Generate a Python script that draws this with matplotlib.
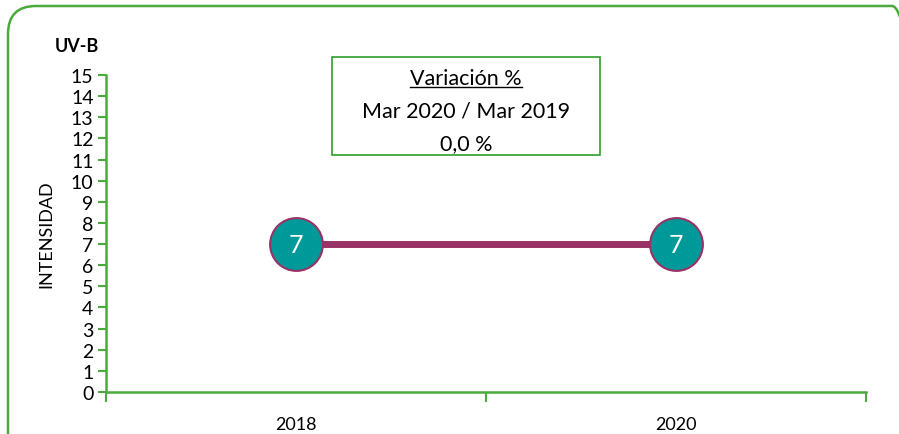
import matplotlib.pyplot as plt
from matplotlib.patches import FancyBboxPatch

years = ["2018", "2020"]
values = [7, 7]
y_ticks = list(range(0, 16))

GREEN = "#4aaa3c"
LINE = "#993366"
FILL = "#009999"

plt.rcParams["font.family"] = ["Lato", "DejaVu Sans"]

fig = plt.figure(figsize=(8.99, 4.35), dpi=100)
ax = fig.add_axes([106 / 899, 1 - 393 / 435, (866 - 106) / 899, (393 - 76) / 435])

x = list(range(len(years)))
ax.plot(x, values, color=LINE, lw=5, solid_capstyle="butt", zorder=2)
ax.plot(x, values, ls="none", marker="o", ms=38, mfc=FILL, mec=LINE, mew=1.5, zorder=3)
for xi, v in zip(x, values):
    ax.text(xi, v, str(v), color="white", ha="center", va="center", fontsize=18, zorder=4)

ax.set_xlim(-0.5, len(years) - 0.5)
ax.set_ylim(0, 15)
ax.set_yticks(y_ticks)
ax.tick_params(axis="y", labelsize=14, length=6, color=GREEN, width=1.5, pad=3)
ax.set_xticks(x)
ax.set_xticklabels(years, fontsize=13)
ax.set_xticks([-0.5, 0.5, 1.5], minor=True)
ax.tick_params(axis="x", which="major", length=0, pad=17)
ax.tick_params(axis="x", which="minor", length=7, color=GREEN, width=1.5)

for s in ["top", "right"]:
    ax.spines[s].set_visible(False)
for s in ["left", "bottom"]:
    ax.spines[s].set_color(GREEN)
    ax.spines[s].set_linewidth(1.8)

ax.set_ylabel("INTENSIDAD", fontsize=13, labelpad=12)
fig.text(55 / 899, 1 - 47 / 435, "UV-B", fontsize=13, fontweight="bold", va="center")

# recuadro de variación
box = FancyBboxPatch((332 / 899, 1 - 156 / 435), (600 - 332) / 899, (156 - 58) / 435,
                     boxstyle="square,pad=0", transform=fig.transFigure,
                     fc="white", ec="#2ca02c", lw=1.2)
fig.add_artist(box)
cx = 466 / 899
t = fig.text(cx, 1 - 79 / 435, "Variación %", ha="center", va="center", fontsize=15.5)
fig.text(cx, 1 - 112 / 435, "Mar 2020 / Mar 2019", ha="center", va="center", fontsize=15.5)
fig.text(cx, 1 - 144 / 435, "0,0 %", ha="center", va="center", fontsize=15.5)
fig.canvas.draw()
bb = t.get_window_extent().transformed(fig.transFigure.inverted())
fig.add_artist(plt.Line2D([bb.x0, bb.x1], [bb.y0 + 0.003, bb.y0 + 0.003],
                          transform=fig.transFigure, color="black", lw=1))

# marco exterior redondeado
frame = FancyBboxPatch((0.08, -0.5), 9.2 - 0.08, 4.28 + 0.5,
                       boxstyle="round,pad=0,rounding_size=0.28",
                       transform=fig.dpi_scale_trans, fc="none", ec=GREEN, lw=1.8)
fig.add_artist(frame)

fig.savefig("out.png", dpi=100)
